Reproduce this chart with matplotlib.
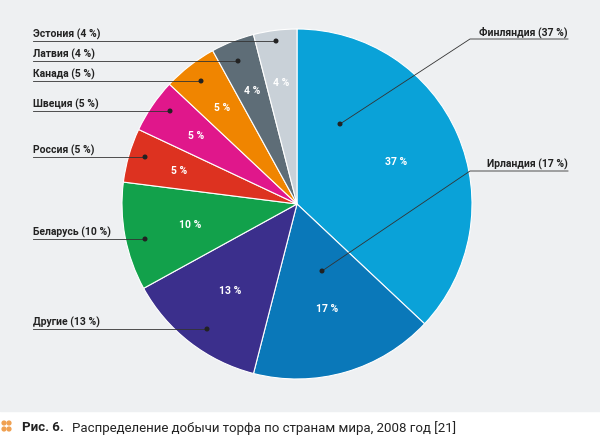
import matplotlib
matplotlib.use("Agg")
import matplotlib.pyplot as plt
from matplotlib.patches import Rectangle, Circle

countries = ["Финляндия", "Ирландия", "Другие", "Беларусь", "Россия", "Швеция", "Канада", "Латвия", "Эстония"]
shares = [37, 17, 13, 10, 5, 5, 5, 4, 4]
colors = ["#0aa2d8", "#0a78b9", "#3b2f8c", "#12a14b", "#dd3220", "#e0178b", "#f08500", "#5e6d77", "#c9d1d8"]
pct_labels = ["37 %", "17 %", "13 %", "10 %", "5 %", "5 %", "5 %", "4 %", "4 %"]
# label text position (px) and dot position (px), side
label_text_px = [(568, 40), (568, 172), (33, 330), (33, 240), (33, 158), (33, 112), (33, 82), (33, 62), (33, 42)]
dot_px = [(340, 125), (322, 272), (207, 330), (145, 240), (145, 158), (170, 112), (201, 82), (238, 62), (276, 42)]

W, H = 600, 439
fig = plt.figure(figsize=(6, 4.39), dpi=100)
ax = fig.add_axes([0, 0, 1, 1])
ax.set_xlim(0, W); ax.set_ylim(0, H); ax.axis("off")
ax.set_aspect("auto")
ax.add_patch(Rectangle((0, H - 412), W, 412, color="#eef0f2", zorder=0))

def Y(y): return H - y

cx, cy, r = 297, Y(205), 175
wedges, _ = ax.pie(shares, colors=colors, startangle=90, counterclock=False,
                   center=(cx, cy), radius=r, frame=True,
                   wedgeprops=dict(edgecolor="white", linewidth=0.8))
ax.set_xlim(0, W); ax.set_ylim(0, H); ax.axis("off")

import numpy as np
ang = 90.0
for s, lab in zip(shares, pct_labels):
    mid = np.deg2rad(ang - s * 3.6 / 2)
    ang -= s * 3.6
    d = 0.62 * r if s > 6 else 0.7 * r
    ax.text(cx + d * np.cos(mid), cy + d * np.sin(mid), lab, color="white",
            fontsize=7.5, fontweight="bold", ha="center", va="center", family="Roboto")

for name, s, (tx, ty), (dx, dy) in zip(countries, shares, label_text_px, dot_px):
    txt = f"{name} ({s} %)"
    if tx > 300:
        ax.plot([dx, 470, tx], [Y(dy), Y(ty), Y(ty)], color="#333333", lw=0.6)
        ax.text(tx, Y(ty) + 2, txt, ha="right", va="bottom", fontsize=7.5, fontweight="bold", family="Roboto", color="#222222")
    else:
        ax.plot([tx, dx], [Y(ty), Y(dy)], color="#333333", lw=0.6)
        ax.text(tx, Y(ty) + 2, txt, ha="left", va="bottom", fontsize=7.5, fontweight="bold", family="Roboto", color="#222222")
    ax.add_patch(Circle((dx, Y(dy)), 1.8, color="#222222", zorder=5))

for (ox, oy) in [(4, 424), (9, 424), (4, 430), (9, 430)]:
    ax.add_patch(Circle((ox, Y(oy)), 1.9, color="#f0a050"))
ax.text(22, Y(428), "Рис. 6.", fontsize=9.5, fontweight="bold", family="Roboto", va="center", color="#222222")
ax.text(72, Y(428), "Распределение добычи торфа по странам мира, 2008 год [21]", fontsize=9.5,
        family="Roboto", va="center", color="#222222")

fig.savefig("out.png", dpi=100)
